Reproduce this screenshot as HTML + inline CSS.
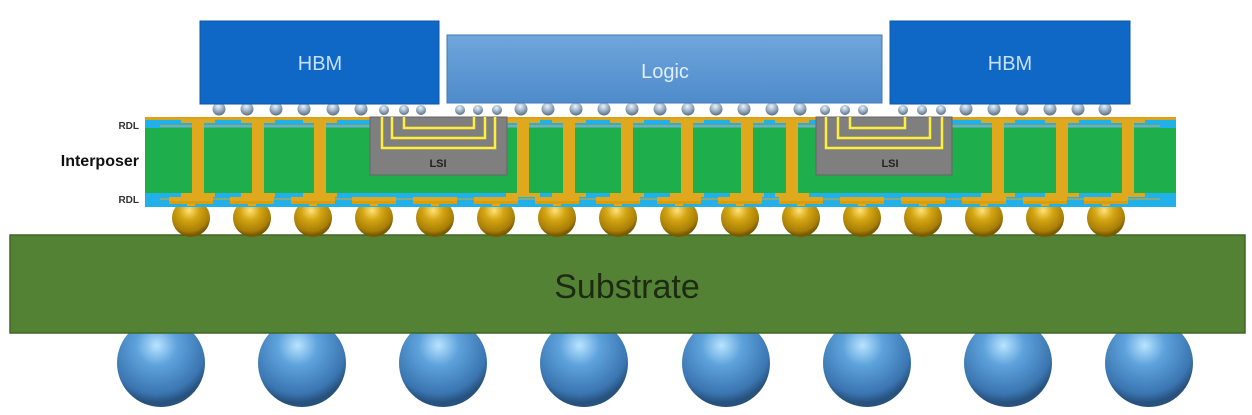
<!DOCTYPE html>
<html><head><meta charset="utf-8"><style>
html,body{margin:0;padding:0;background:#fff;width:1252px;height:415px;overflow:hidden}
svg{display:block}
</style></head><body>
<svg width="1252" height="415" viewBox="0 0 1252 415" xmlns="http://www.w3.org/2000/svg">
<defs>
<radialGradient id="gb" cx="0.45" cy="0.3" r="0.65">
<stop offset="0" stop-color="#b8e4ff"/><stop offset="0.35" stop-color="#5fa3dc"/><stop offset="0.85" stop-color="#3a75b0"/><stop offset="1" stop-color="#27527e"/></radialGradient>
<radialGradient id="gg" cx="0.45" cy="0.3" r="0.65">
<stop offset="0" stop-color="#ffe27a"/><stop offset="0.4" stop-color="#d4a512"/><stop offset="0.85" stop-color="#a87e06"/><stop offset="1" stop-color="#7a5a00"/></radialGradient>
<radialGradient id="gm" cx="0.45" cy="0.3" r="0.7">
<stop offset="0" stop-color="#e8f2fb"/><stop offset="0.5" stop-color="#9fb4c8"/><stop offset="1" stop-color="#5b6f84"/></radialGradient>
<linearGradient id="lg" x1="0" y1="0" x2="0" y2="1"><stop offset="0" stop-color="#6fa6dc"/><stop offset="1" stop-color="#4f8bcb"/></linearGradient>
<circle id="mb" r="6.5" fill="url(#gm)"/>
<circle id="ms" r="5" fill="url(#gm)"/>
<g id="gball"><circle r="19" fill="url(#gg)"/></g>
<g id="bball"><circle r="44" fill="url(#gb)"/></g>
<g id="via"><rect x="-6" y="123" width="12" height="72" fill="#e0a81c"/><rect x="-17" y="119" width="34" height="4" fill="#e0a81c"/><rect x="-17" y="193" width="34" height="4" fill="#e0a81c"/></g>
<g id="pad"><rect x="-22" y="197" width="44" height="4" fill="#e0a81c"/><rect x="-4" y="197" width="8" height="9" fill="#e0a81c"/><rect x="-22" y="201" width="44" height="3" fill="#d89e10"/></g>
</defs>

<!-- blue solder balls -->
<g>
<use href="#bball" x="161" y="363"/><use href="#bball" x="302" y="363"/><use href="#bball" x="443" y="363"/><use href="#bball" x="584" y="363"/><use href="#bball" x="726" y="363"/><use href="#bball" x="867" y="363"/><use href="#bball" x="1008" y="363"/><use href="#bball" x="1149" y="363"/>
</g>
<!-- substrate -->
<rect x="10" y="235" width="1235" height="98" fill="#548235" stroke="#3f6626" stroke-width="1.5"/>
<text x="627" y="298" text-anchor="middle" font-family="Liberation Sans, sans-serif" font-size="34" fill="#1c2b12">Substrate</text>

<!-- gold bumps -->
<g>
<use href="#gball" x="191" y="218"/><use href="#gball" x="252" y="218"/><use href="#gball" x="313" y="218"/><use href="#gball" x="374" y="218"/><use href="#gball" x="435" y="218"/><use href="#gball" x="496" y="218"/><use href="#gball" x="557" y="218"/><use href="#gball" x="618" y="218"/><use href="#gball" x="679" y="218"/><use href="#gball" x="740" y="218"/><use href="#gball" x="801" y="218"/><use href="#gball" x="862" y="218"/><use href="#gball" x="923" y="218"/><use href="#gball" x="984" y="218"/><use href="#gball" x="1045" y="218"/><use href="#gball" x="1106" y="218"/>
</g>

<!-- interposer -->
<rect x="145" y="117" width="1031" height="90" fill="#22b0e8"/>
<rect x="145" y="128" width="1031" height="65" fill="#1fae4c"/>
<rect x="145" y="117" width="1031" height="3" fill="#d9a21a"/>
<g fill="#e0a81c">
<rect x="160" y="125" width="1000" height="2" opacity="0.6"/>
<rect x="160" y="198" width="1000" height="2" opacity="0.5"/>
</g>
<g>
<use href="#pad" x="191"/><use href="#pad" x="252"/><use href="#pad" x="313"/><use href="#pad" x="374"/><use href="#pad" x="435"/><use href="#pad" x="496"/><use href="#pad" x="557"/><use href="#pad" x="618"/><use href="#pad" x="679"/><use href="#pad" x="740"/><use href="#pad" x="801"/><use href="#pad" x="862"/><use href="#pad" x="923"/><use href="#pad" x="984"/><use href="#pad" x="1045"/><use href="#pad" x="1106"/>
</g>
<g>
<use href="#via" x="198"/><use href="#via" x="258"/><use href="#via" x="320"/><use href="#via" x="523"/><use href="#via" x="569"/><use href="#via" x="627"/><use href="#via" x="687"/><use href="#via" x="747"/><use href="#via" x="792"/><use href="#via" x="998"/><use href="#via" x="1062"/><use href="#via" x="1128"/>
</g>

<!-- LSI bridges -->
<g>
<rect x="370" y="117" width="137" height="58" fill="#7f7f7f" stroke="#666" stroke-width="1"/>
<path d="M382 117 V148 H495 V117 M392 117 V138 H485 V117 M404 117 V128 H474 V117" fill="none" stroke="#ffef3a" stroke-width="2.5"/>
<text x="438" y="167" text-anchor="middle" font-family="Liberation Sans, sans-serif" font-weight="bold" font-size="11" fill="#222">LSI</text>
<rect x="816" y="117" width="136" height="58" fill="#7f7f7f" stroke="#666" stroke-width="1"/>
<path d="M826 117 V148 H942 V117 M838 117 V138 H930 V117 M850 117 V128 H905 V117" fill="none" stroke="#ffef3a" stroke-width="2.5"/>
<text x="890" y="167" text-anchor="middle" font-family="Liberation Sans, sans-serif" font-weight="bold" font-size="11" fill="#222">LSI</text>
</g>

<!-- labels -->
<text x="139" y="129" text-anchor="end" font-family="Liberation Sans, sans-serif" font-weight="bold" font-size="10" fill="#333">RDL</text>
<text x="139" y="203" text-anchor="end" font-family="Liberation Sans, sans-serif" font-weight="bold" font-size="10" fill="#333">RDL</text>
<text x="139" y="166" text-anchor="end" font-family="Liberation Sans, sans-serif" font-weight="bold" font-size="16" fill="#111">Interposer</text>

<!-- micro bumps -->
<g>
<use href="#mb" x="219" y="109"/><use href="#mb" x="247" y="109"/><use href="#mb" x="276" y="109"/><use href="#mb" x="304" y="109"/><use href="#mb" x="333" y="109"/><use href="#mb" x="361" y="109"/>
<use href="#ms" x="384" y="110"/><use href="#ms" x="404" y="110"/><use href="#ms" x="421" y="110"/>
<use href="#ms" x="460" y="110"/><use href="#ms" x="478" y="110"/><use href="#ms" x="497" y="110"/>
<use href="#mb" x="521" y="109"/><use href="#mb" x="548" y="109"/><use href="#mb" x="576" y="109"/><use href="#mb" x="604" y="109"/><use href="#mb" x="632" y="109"/><use href="#mb" x="660" y="109"/><use href="#mb" x="688" y="109"/><use href="#mb" x="716" y="109"/><use href="#mb" x="744" y="109"/><use href="#mb" x="772" y="109"/><use href="#mb" x="800" y="109"/>
<use href="#ms" x="825" y="110"/><use href="#ms" x="845" y="110"/><use href="#ms" x="863" y="110"/>
<use href="#ms" x="903" y="110"/><use href="#ms" x="922" y="110"/><use href="#ms" x="941" y="110"/>
<use href="#mb" x="966" y="109"/><use href="#mb" x="994" y="109"/><use href="#mb" x="1022" y="109"/><use href="#mb" x="1050" y="109"/><use href="#mb" x="1078" y="109"/><use href="#mb" x="1105" y="109"/>
</g>

<!-- dies -->
<rect x="200" y="21" width="239" height="83" fill="#1068c6" stroke="#0b56a6" stroke-width="1"/>
<text x="320" y="70" text-anchor="middle" font-family="Liberation Sans, sans-serif" font-size="20" fill="#c6e0f8">HBM</text>
<rect x="447" y="35" width="435" height="68" fill="url(#lg)" stroke="#3f7ab8" stroke-width="1"/>
<text x="665" y="78" text-anchor="middle" font-family="Liberation Sans, sans-serif" font-size="20" fill="#ddeeff">Logic</text>
<rect x="890" y="21" width="240" height="83" fill="#1068c6" stroke="#0b56a6" stroke-width="1"/>
<text x="1010" y="70" text-anchor="middle" font-family="Liberation Sans, sans-serif" font-size="20" fill="#c6e0f8">HBM</text>
</svg>
</body></html>
